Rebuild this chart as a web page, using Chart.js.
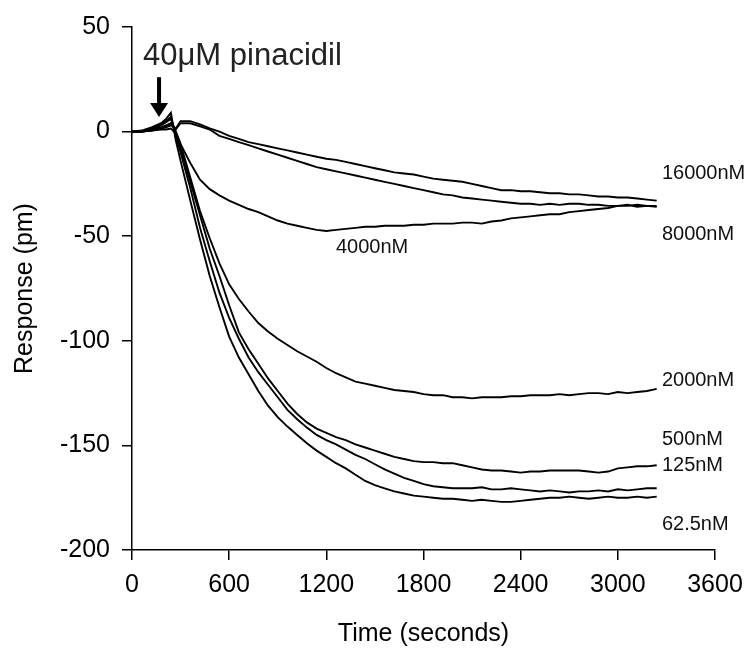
<!DOCTYPE html>
<html>
<head>
<meta charset="utf-8">
<script src="https://cdn.jsdelivr.net/npm/chart.js@4.4.1/dist/chart.umd.min.js"></script>
<style>
  html, body { margin: 0; padding: 0; background: #fff; }
  #wrap { width: 753px; height: 657px; }
</style>
</head>
<body>
<div id="wrap"><canvas id="chart" width="753" height="657"></canvas></div>
<script>
// time points (seconds)
const timeSec = [0, 60, 120, 180, 210, 240, 270, 300,
  360, 420, 480, 540, 600, 660, 720, 780, 840, 900,
  960, 1020, 1080, 1140, 1200, 1260, 1320, 1380, 1440, 1500,
  1560, 1620, 1680, 1740, 1800, 1860, 1920, 1980, 2040, 2100,
  2160, 2220, 2280, 2340, 2400, 2460, 2520, 2580, 2640, 2700,
  2760, 2820, 2880, 2940, 3000, 3060, 3120, 3180, 3240];

// responses (pm) per concentration
const resp62_5 = [0, 0.5, 2, 4, 6, 9, -4, -14,
  -33, -51.6, -69, -84, -98, -108, -116, -124, -131, -136.5,
  -141, -145, -149, -152.5, -155.5, -158.5, -161, -164, -167, -169,
  -170.5, -172, -173, -174, -174.5, -175, -175.5, -175.5, -176, -176.5,
  -176, -176.5, -177, -177, -176.5, -176, -175.5, -175, -175, -174.5,
  -175, -175.5, -175, -174.5, -175, -175, -174.5, -175, -174.5];
const resp125 = [0, 0.3, 1.5, 3.5, 5, 7, -2, -10,
  -27, -46, -62, -77, -89, -99, -108, -115, -121, -127,
  -133, -137.5, -141.5, -145, -147.5, -149.5, -152, -154.5, -156.5, -159,
  -161.5, -163.5, -165.5, -167, -168.5, -169.5, -170, -170.5, -170.5, -170.5,
  -170, -171, -171, -170.5, -171, -171.5, -172, -171.5, -172, -172.5,
  -172, -172, -171.5, -172, -171, -171.5, -171, -170.5, -170.5];
const resp500 = [0, 0, 0.5, 1, 1, 1.5, -1, -8,
  -24, -40, -56, -69, -83, -96, -104, -111, -118, -124,
  -130, -135, -139, -142, -144, -146, -147.5, -149.5, -151, -152.5,
  -154, -155.5, -156.5, -157.5, -158, -158, -158.5, -158.5, -159.5, -160.5,
  -161.5, -162, -162, -162.5, -163, -162.5, -162.5, -162, -162, -162,
  -162, -162.5, -163, -162.5, -161, -160.5, -160, -160, -159.5];
const resp2000 = [0, 0, 1, 3, 4.5, 6, 0, -6,
  -22, -38, -51, -63, -73, -80, -86, -91.5, -95.5, -99,
  -102, -105, -107.5, -110, -113, -115.5, -117.5, -119.5, -120.5, -121.5,
  -122.5, -123.5, -124, -124.5, -125.5, -126, -126, -127, -127, -127.5,
  -127, -127, -127, -126.5, -126.5, -126, -126, -126, -125.5, -126,
  -125.5, -125, -125, -125.5, -124.5, -125, -124.5, -124, -123];
const resp4000 = [0, 0, 1, 2, 3, 4, 0, -6,
  -15, -23, -27.5, -30.5, -33, -35, -37, -38.5, -40.5, -42.5,
  -44, -45, -46, -47, -47.5, -47, -46.5, -46, -45.5, -45.5,
  -45, -45, -45, -44.5, -44.5, -44, -44, -44, -43.5, -43.5,
  -44, -43, -42.5, -41.5, -41, -40.5, -40, -39.5, -39.5, -38.5,
  -38, -37.5, -37, -36.5, -35.5, -35.5, -35, -35.5, -35.5];
const resp8000 = [0, 0, 0.5, 1.5, 2.5, 4, 1, 4,
  4, 2.5, 1, -2, -3.5, -5, -6.5, -8, -9.5, -11,
  -12.5, -14, -15.5, -17, -18, -19, -20, -21, -22, -23,
  -24, -25, -26, -27, -28, -29, -30, -30.5, -31.5, -32,
  -32.5, -33, -33.5, -34, -34.5, -34.5, -35, -34.5, -35, -34.5,
  -34.5, -35, -35, -35.5, -35.5, -35, -36, -35.5, -36];
const resp16000 = [0, 0, 0.5, 1.5, 2, 3, 1.5, 5,
  5, 3.5, 1.5, 0, -2, -3.5, -5, -6, -7, -8,
  -9, -10, -11, -12, -13, -13.5, -14.5, -15.5, -16.5, -17.5,
  -18.5, -19.5, -20, -20.5, -21.5, -22.5, -23, -23.5, -24, -25,
  -26, -27, -28, -28, -28.5, -28.5, -29, -29.5, -29.5, -30,
  -30, -30.5, -31, -31, -31.5, -31.5, -32, -32.5, -33];

const seriesNames = ["62.5nM", "125nM", "500nM", "2000nM", "4000nM", "8000nM", "16000nM"];
const seriesValues = [resp62_5, resp125, resp500, resp2000, resp4000, resp8000, resp16000];

const yTicks = [50, 0, -50, -100, -150, -200];
const xTicks = [0, 600, 1200, 1800, 2400, 3000, 3600];

// text labels placed in data units (seconds, pm)
const curveLabels = [
  { text: "16000nM", x: 3272, y: -20 },
  { text: "8000nM", x: 3272, y: -49 },
  { text: "4000nM", x: 1259, y: -55.5 },
  { text: "2000nM", x: 3272, y: -119 },
  { text: "500nM", x: 3272, y: -147 },
  { text: "125nM", x: 3272, y: -159.6 },
  { text: "62.5nM", x: 3272, y: -188 }
];
const drugNote = { text: "40\u03bcM pinacidil", x: 68, y: 32, arrowX: 167, arrowTop: 26, arrowTip: 7 };

const FONT = "'Liberation Sans', Arial, sans-serif";

const annotate = {
  id: "annotate",
  afterDatasetsDraw(chart) {
    const ctx = chart.ctx;
    const xs = chart.scales.x, ys = chart.scales.y;
    ctx.save();
    ctx.fillStyle = "#111";
    ctx.font = "20px " + FONT;
    ctx.textAlign = "left";
    ctx.textBaseline = "middle";
    curveLabels.forEach(l => {
      ctx.fillText(l.text, xs.getPixelForValue(l.x), ys.getPixelForValue(l.y));
    });

    // pinacidil note + arrow
    ctx.fillStyle = "#222";
    ctx.font = "31px " + FONT;
    ctx.textBaseline = "alphabetic";
    ctx.fillText(drugNote.text, xs.getPixelForValue(drugNote.x), ys.getPixelForValue(drugNote.y));

    const ax = xs.getPixelForValue(drugNote.arrowX);
    const top = ys.getPixelForValue(drugNote.arrowTop);
    const tip = ys.getPixelForValue(drugNote.arrowTip);
    ctx.strokeStyle = "#000";
    ctx.lineWidth = 4;
    ctx.beginPath();
    ctx.moveTo(ax, top);
    ctx.lineTo(ax, tip - 10);
    ctx.stroke();
    ctx.fillStyle = "#000";
    ctx.beginPath();
    ctx.moveTo(ax - 9, tip - 14);
    ctx.lineTo(ax + 9, tip - 14);
    ctx.lineTo(ax, tip);
    ctx.closePath();
    ctx.fill();
    ctx.restore();
  }
};

const datasets = seriesValues.map((vals, i) => ({
  label: seriesNames[i],
  data: timeSec.map((t, j) => ({ x: t, y: vals[j] })),
  borderColor: "#000",
  borderWidth: 1.9,
  pointRadius: 0,
  fill: false,
  tension: 0
}));

new Chart(document.getElementById("chart"), {
  type: "line",
  data: { datasets: datasets },
  options: {
    responsive: false,
    animation: false,
    devicePixelRatio: 1,
    layout: { padding: { top: 17, right: 38, left: 0, bottom: 0 } },
    plugins: { legend: { display: false }, tooltip: { enabled: false } },
    scales: {
      x: {
        type: "linear",
        min: 0,
        max: 3600,
        afterBuildTicks: s => { s.ticks = xTicks.map(v => ({ value: v })); },
        afterFit: s => { s.height = 107; },
        border: { display: true, color: "#000", width: 1.5 },
        grid: { display: true, drawOnChartArea: false, drawTicks: true, tickLength: 10, color: "#000", lineWidth: 1.5 },
        ticks: { color: "#000", font: { family: FONT, size: 25 }, padding: 10, maxRotation: 0, callback: v => String(v) },
        title: { display: true, text: "Time (seconds)", color: "#000", font: { family: FONT, size: 25 }, padding: { top: 4, bottom: 8 } }
      },
      y: {
        type: "linear",
        min: -200,
        max: 50,
        afterBuildTicks: s => { s.ticks = yTicks.map(v => ({ value: v })); },
        afterFit: s => { s.width = 132; },
        border: { display: true, color: "#000", width: 1.5 },
        grid: { display: true, drawOnChartArea: false, drawTicks: true, tickLength: 10, color: "#000", lineWidth: 1.5 },
        ticks: { color: "#000", font: { family: FONT, size: 25 }, padding: 12, callback: v => String(v) },
        title: { display: true, text: "Response (pm)", color: "#000", font: { family: FONT, size: 25 }, padding: { top: 10, bottom: 0 } }
      }
    }
  },
  plugins: [annotate]
});
</script>
</body>
</html>
